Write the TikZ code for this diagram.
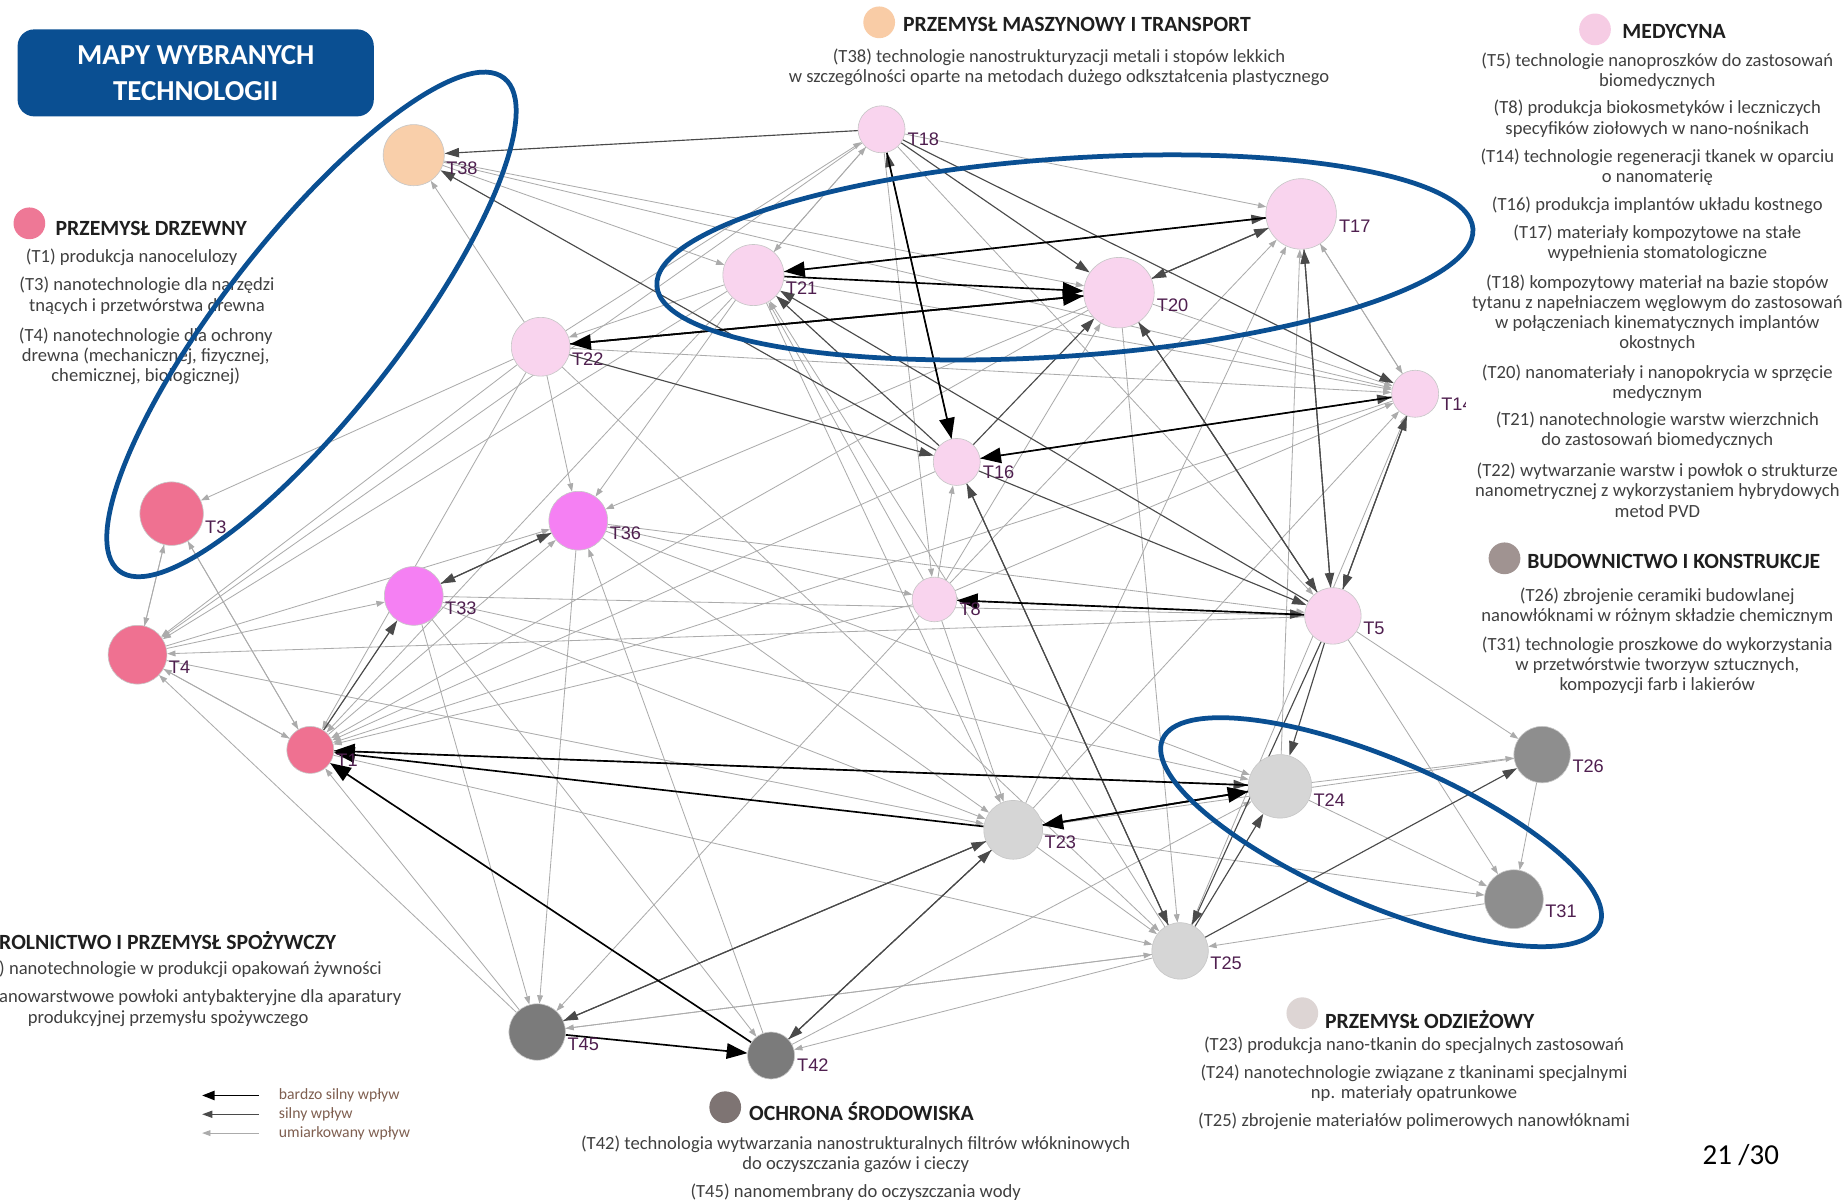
\documentclass[tikz,border=0pt]{standalone}
\usepackage{fontspec}
\setmainfont{Carlito}
\newfontfamily\labfont{Liberation Sans}
\usetikzlibrary{arrows.meta,backgrounds}
\definecolor{ringblue}{HTML}{0A4F92}
\definecolor{textgray}{HTML}{404040}
\definecolor{headgray}{HTML}{1F1F1F}
\definecolor{labpurple}{HTML}{4F1F4F}
\definecolor{legbrown}{HTML}{7F5F50}
\definecolor{edgedark}{HTML}{4A4A4A}
\definecolor{edgelight}{HTML}{ABABAB}
\definecolor{cwood}{HTML}{EF7191}
\definecolor{cmasz}{HTML}{F9CFAA}
\definecolor{cmed}{HTML}{F9D4EE}
\definecolor{cmag}{HTML}{F580F3}
\definecolor{clgray}{HTML}{D6D6D6}
\definecolor{cmgray}{HTML}{8E8E8E}
\definecolor{cdgray}{HTML}{7B7B7B}
\definecolor{dwood}{HTML}{EE7896}
\definecolor{dmasz}{HTML}{F9CCA6}
\definecolor{dmed}{HTML}{F6CCE4}
\definecolor{dbud}{HTML}{A09391}
\definecolor{doch}{HTML}{7E7473}
\definecolor{dodz}{HTML}{DDD5D4}

\begin{document}
\begin{tikzpicture}[x=0.2mm,y=-0.2mm,
  tn/.style={circle,draw=black!22,line width=0.3pt,inner sep=0pt,minimum size=#1*0.4mm},
  lab/.style={font=\labfont\fontsize{8.8}{8.8}\selectfont,text=labpurple,anchor=west,inner sep=0.5pt,xshift=1.5pt},
  txt/.style={font=\fontsize{9}{9.8}\selectfont,text=textgray,align=center,inner sep=0pt},
  head/.style={font=\fontsize{10.5}{12}\selectfont\bfseries,text=headgray,anchor=west,inner sep=0pt},
  dot/.style={circle,inner sep=0pt,minimum size=5.4mm},
  legtxt/.style={font=\fontsize{7.6}{7.6}\selectfont,text=legbrown,anchor=west,inner sep=0pt},
  vstrong/.style={draw=black,line width=0.8pt,-{Triangle[length=10pt,width=7.5pt]}},
  strong/.style={draw=edgedark,line width=0.55pt,-{Triangle[length=7pt,width=4.5pt]}},
  mod/.style={draw=edgelight,line width=0.4pt,-{Triangle[length=4pt,width=2.8pt]}},
  ring/.style={draw=ringblue,line width=2.3pt}]
  \useasboundingbox (0,0) rectangle (1568,1023);

  % technologies
  \node[tn=26,fill=cmasz,label={[lab]-25:T38}] (t38) at (352,132) {};
  \node[tn=20,fill=cmed,label={[lab]-25:T18}] (t18) at (750,110) {};
  \node[tn=30,fill=cmed,label={[lab]-20:T17}] (t17) at (1107,182) {};
  \node[tn=26,fill=cmed,label={[lab]-25:T21}] (t21) at (641,234) {};
  \node[tn=30,fill=cmed,label={[lab]-20:T20}] (t20) at (952,249) {};
  \node[tn=25,fill=cmed,label={[lab]-25:T22}] (t22) at (460,295) {};
  \node[tn=20,fill=cmed,label={[lab]-25:T14}] (t14) at (1204,335) {};
  \node[tn=20,fill=cmed,label={[lab]-25:T16}] (t16) at (814,393) {};
  \node[tn=27,fill=cwood,label={[lab]-25:T3}] (t3) at (146,437) {};
  \node[tn=25,fill=cmag,label={[lab]-25:T36}] (t36) at (492,443) {};
  \node[tn=25,fill=cmag,label={[lab]-25:T33}] (t33) at (352,507) {};
  \node[tn=19,fill=cmed,label={[lab]-25:T8}] (t8) at (795,510) {};
  \node[tn=24,fill=cmed,label={[lab]-25:T5}] (t5) at (1134,524) {};
  \node[tn=25,fill=cwood,label={[lab]-25:T4}] (t4) at (117,557) {};
  \node[tn=20,fill=cwood,label={[lab]-25:T1}] (t1) at (264,638) {};
  \node[tn=24,fill=cmgray,label={[lab]-25:T26}] (t26) at (1312,642) {};
  \node[tn=27,fill=clgray,label={[lab]-25:T24}] (t24) at (1089,669) {};
  \node[tn=25,fill=clgray,label={[lab]-25:T23}] (t23) at (862,706) {};
  \node[tn=25,fill=cmgray,label={[lab]-25:T31}] (t31) at (1288,765) {};
  \node[tn=24,fill=clgray,label={[lab]-25:T25}] (t25) at (1004,809) {};
  \node[tn=24,fill=cdgray,label={[lab]-25:T45}] (t45) at (457,878) {};
  \node[tn=20,fill=cdgray,label={[lab]-25:T42}] (t42) at (656,898) {};

  % influences
  \begin{scope}[on background layer]
    \fill[white] (0,0) rectangle (1568,1023);
    \foreach \a/\b in {t22/t38,t38/t20,t38/t21,t38/t14,t18/t17,t21/t18,t18/t21,t22/t18,t17/t14,t14/t17,
        t24/t17,t8/t17,t23/t17,t8/t20,t20/t25,t20/t14,t22/t3,t3/t4,t4/t3,t1/t3,t3/t1,t4/t1,t1/t4,
        t45/t4,t4/t33,t4/t36,t22/t4,t21/t4,t18/t4,t4/t23,t5/t4,t1/t36,t22/t1,t21/t1,t16/t1,t14/t1,
        t8/t1,t20/t1,t33/t1,t45/t1,t22/t36,t21/t36,t20/t36,t36/t45,t42/t36,t36/t8,t36/t5,t36/t23,
        t36/t24,t33/t45,t33/t42,t33/t5,t33/t23,t33/t24,t21/t22,t22/t14,t22/t25,t8/t21,t21/t14,
        t21/t23,t25/t21,t8/t16,t25/t14,t8/t14,t23/t14,t8/t23,t8/t45,t5/t31,t5/t26,t24/t26,t24/t31,
        t26/t31,t26/t23,t23/t31,t31/t25,t45/t25,t25/t45,t25/t42,t42/t24,t23/t25,t1/t25,t18/t5,t18/t8}
      \draw[mod] (\a) -- (\b);
    \foreach \a/\b in {t21/t17,t20/t17,t17/t20,t16/t18,t18/t38,t16/t38,t18/t20,t18/t14,t22/t16,
        t16/t14,t16/t20,t16/t21,t5/t21,t16/t5,t20/t5,t5/t20,t14/t5,t5/t14,t17/t5,t5/t17,t8/t5,
        t1/t24,t5/t24,t5/t25,t25/t24,t16/t25,t25/t16,t36/t33,t33/t36,t23/t45,t45/t23,t23/t42,
        t42/t23,t1/t33,t25/t26}
      \draw[strong] (\a) -- (\b);
    \foreach \a/\b in {t21/t20,t22/t20,t20/t22,t17/t21,t18/t16,t14/t16,t5/t8,t23/t1,t24/t1,
        t42/t1,t45/t42,t23/t24,t24/t23}
      \draw[vstrong] (\a) -- (\b);
  \end{scope}

  % title
  \node[fill=ringblue,rounded corners=8pt,minimum width=303*0.2mm,minimum height=74*0.2mm,
    text=white,align=center,font=\fontsize{14}{17.5}\selectfont\bfseries] (title) at (166.5,62)
    {MAPY WYBRANYCH\\TECHNOLOGII};

  % przemysl drzewny
  \node[dot,fill=dwood] (dwd) at (25,190) {};
  \node[head] (hwd) at (47,194) {PRZEMYSŁ DRZEWNY};
  \node[txt] (wdT1) at (112,219) {(T1) produkcja nanocelulozy};
  \node[txt] (wdT3) at (125,251.5) {(T3) nanotechnologie dla narzędzi\\tnących i przetwórstwa drewna};
  \node[txt] (wdT4) at (124,303) {(T4) nanotechnologie dla ochrony\\drewna (mechanicznej, fizycznej,\\chemicznej, biologicznej)};

  % przemysl maszynowy
  \node[dot,fill=dmasz] (dms) at (748,19) {};
  \node[head] (hms) at (768,21) {PRZEMYSŁ MASZYNOWY I TRANSPORT};
  \node[txt] (msT38) at (901,57.5) {(T38) technologie nanostrukturyzacji metali i stopów lekkich\\w szczególności oparte na metodach dużego odkształcenia plastycznego};

  % medycyna
  \fill[white] (1247,0) rectangle (1568,455);
  \node[dot,fill=dmed] (dmd) at (1357,25) {};
  \node[head] (hmd) at (1380,27) {MEDYCYNA};
  \node[txt] (mdT5) at (1410,60.5) {(T5) technologie nanoproszków do zastosowań\\biomedycznych};
  \node[txt] (mdT8) at (1410,101) {(T8) produkcja biokosmetyków i leczniczych\\specyfików ziołowych w nano-nośnikach};
  \node[txt] (mdT14) at (1410,142) {(T14) technologie regeneracji tkanek w oparciu\\o nanomaterię};
  \node[txt] (mdT16) at (1410,175) {(T16) produkcja implantów układu kostnego};
  \node[txt] (mdT17) at (1410,207) {(T17) materiały kompozytowe na stałe\\wypełnienia stomatologiczne};
  \node[txt] (mdT18) at (1410,266.5) {(T18) kompozytowy materiał na bazie stopów\\tytanu z napełniaczem węglowym do zastosowań\\w połączeniach kinematycznych implantów\\okostnych};
  \node[txt] (mdT20) at (1410,326) {(T20) nanomateriały i nanopokrycia w sprzęcie\\medycznym};
  \node[txt] (mdT21) at (1410,366) {(T21) nanotechnologie warstw wierzchnich\\do zastosowań biomedycznych};
  \node[txt] (mdT22) at (1410,417) {(T22) wytwarzanie warstw i powłok o strukturze\\nanometrycznej z wykorzystaniem hybrydowych\\metod PVD};

  % budownictwo
  \node[dot,fill=dbud] (dbd) at (1280,475) {};
  \node[head] (hbd) at (1299,478) {BUDOWNICTWO I KONSTRUKCJE};
  \node[txt] (bdT26) at (1410,515.5) {(T26) zbrojenie ceramiki budowlanej\\nanowłóknami w różnym składzie chemicznym};
  \node[txt] (bdT31) at (1410,566) {(T31) technologie proszkowe do wykorzystania\\w przetwórstwie tworzyw sztucznych,\\kompozycji farb i lakierów};

  % rolnictwo
  \node[head] (hrl) at (-1,800) {ROLNICTWO I PRZEMYSŁ SPOŻYWCZY};
  \node[txt,anchor=west] (rlA) at (-1,825) {) nanotechnologie w produkcji opakowań żywności};
  \node[txt,anchor=west] (rlB) at (-1,849) {anowarstwowe powłoki antybakteryjne dla aparatury};
  \node[txt] (rlC) at (143,867) {produkcyjnej przemysłu spożywczego};

  % ochrona srodowiska
  \node[dot,fill=doch] (doc) at (617,942) {};
  \node[head] (hoc) at (637,946) {OCHRONA ŚRODOWISKA};
  \node[txt] (ocT42) at (728,982) {(T42) technologia wytwarzania nanostrukturalnych filtrów włókninowych\\do oczyszczania gazów i cieczy};
  \node[txt] (ocT45) at (728,1014) {(T45) nanomembrany do oczyszczania wody};

  % przemysl odziezowy
  \node[dot,fill=dodz] (doz) at (1108,862) {};
  \node[head] (hoz) at (1127,867) {PRZEMYSŁ ODZIEŻOWY};
  \node[txt] (ozT23) at (1203,889) {(T23) produkcja nano-tkanin do specjalnych zastosowań};
  \node[txt] (ozT24) at (1203,921.5) {(T24) nanotechnologie związane z tkaninami specjalnymi\\np. materiały opatrunkowe};
  \node[txt] (ozT25) at (1203,954) {(T25) zbrojenie materiałów polimerowych nanowłóknami};

  % legend
  \coordinate (lg1a) at (220,932); \coordinate (lg1b) at (172,932);
  \coordinate (lg2a) at (220,948); \coordinate (lg2b) at (172,948);
  \coordinate (lg3a) at (220,964); \coordinate (lg3b) at (172,964);
  \draw[vstrong,-{Triangle[length=6pt,width=4.5pt]}] (lg1a) -- (lg1b);
  \draw[strong,-{Triangle[length=5pt,width=3.5pt]}] (lg2a) -- (lg2b);
  \draw[mod] (lg3a) -- (lg3b);
  \node[legtxt] (lgt1) at (237,932) {bardzo silny wpływ};
  \node[legtxt] (lgt2) at (237,948) {silny wpływ};
  \node[legtxt] (lgt3) at (237,964) {umiarkowany wpływ};

  \node[font=\fontsize{14}{14}\selectfont,inner sep=0pt] (page) at (1481,983) {21 /30};

  % groupings
  \draw[ring,rotate around={52:(265,276)}] (265,276) ellipse [x radius=266, y radius=75];
  \draw[ring,rotate around={4:(906,219)}] (906,219) ellipse [x radius=348, y radius=84];
  \draw[ring,rotate around={-23:(1175,708)}] (1175,708) ellipse [x radius=202, y radius=62];
\end{tikzpicture}
\end{document}
